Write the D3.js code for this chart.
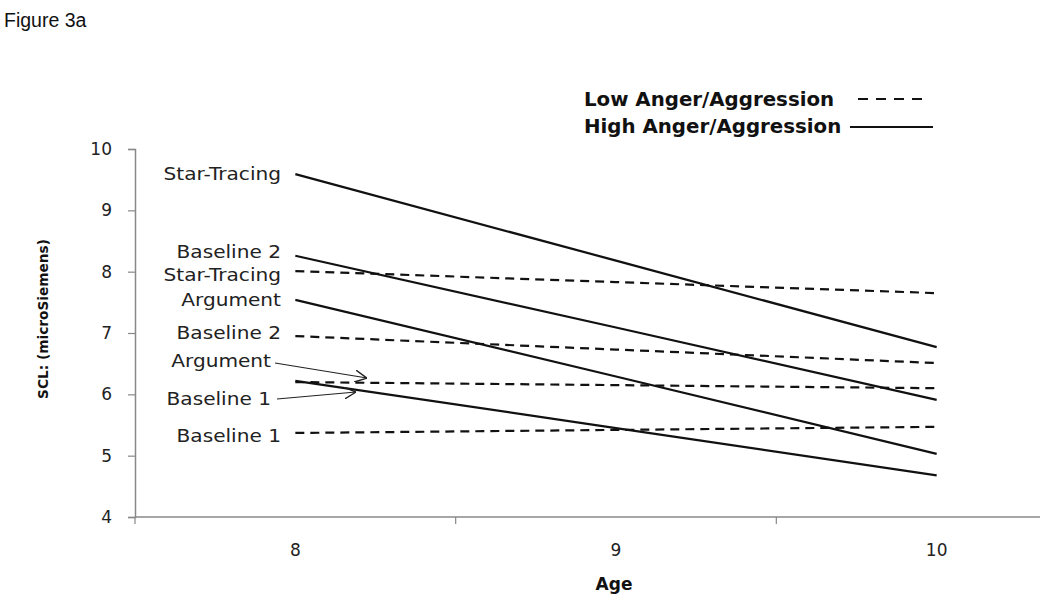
<!DOCTYPE html>
<html><head><meta charset="utf-8">
<script src="https://cdn.jsdelivr.net/npm/d3@7"></script>
<style>body{margin:0;background:#fff}</style>
</head><body>
<svg id="c" width="1050" height="603"></svg>
<script>
const ages = ["8", "9", "10"];
const yTicks = [4, 5, 6, 7, 8, 9, 10];
const conditions = ["Star-Tracing", "Baseline 2", "Argument", "Baseline 1"];
const highValues = {
  "Star-Tracing": [9.59, 8.18, 6.77],
  "Baseline 2":   [8.26, 7.09, 5.91],
  "Argument":     [7.54, 6.29, 5.03],
  "Baseline 1":   [6.22, 5.45, 4.68]
};
const lowValues = {
  "Star-Tracing": [8.01, 7.83, 7.65],
  "Baseline 2":   [6.95, 6.73, 6.51],
  "Argument":     [6.20, 6.15, 6.10],
  "Baseline 1":   [5.37, 5.42, 5.47]
};
const legendLabels = ["Low Anger/Aggression", "High Anger/Aggression"];

const svg = d3.select("#c");
const font = "'DejaVu Sans', sans-serif";
const x = d3.scaleBand().domain(ages).range([135, 1097]).padding(0);
const y = d3.scaleLinear().domain([4, 10]).range([517, 149]);
const cx = a => x(a) + x.bandwidth() / 2;

svg.append("text").attr("x", 4).attr("y", 27).attr("font-family", "Arial, 'Liberation Sans', sans-serif")
  .attr("font-size", 19.5).attr("fill", "#111").text("Figure 3a");

const axisColor = "#888";
// y axis
const yAxis = svg.append("g").attr("transform", "translate(135,0)")
  .call(d3.axisLeft(y).tickValues(yTicks).tickSize(7).tickPadding(16).tickFormat(d3.format("d")));
yAxis.select(".domain").attr("stroke", axisColor).attr("stroke-width", 1.5);
yAxis.selectAll(".tick line").attr("stroke", axisColor).attr("stroke-width", 1.2);
yAxis.selectAll(".tick text").attr("font-family", font).attr("font-size", 17).attr("fill", "#222");

// x axis (custom boundary ticks, clipped right)
svg.append("clipPath").attr("id", "clipx").append("rect").attr("x", 0).attr("y", 0).attr("width", 1040).attr("height", 603);
const xg = svg.append("g").attr("clip-path", "url(#clipx)");
xg.append("line").attr("x1", x.range()[0]).attr("x2", x.range()[1]).attr("y1", y(4)).attr("y2", y(4))
  .attr("stroke", axisColor).attr("stroke-width", 1.5);
xg.selectAll("line.tk").data(ages).join("line").attr("class", "tk")
  .attr("x1", d => x(d)).attr("x2", d => x(d)).attr("y1", y(4)).attr("y2", y(4) + 7)
  .attr("stroke", axisColor).attr("stroke-width", 1.2);
svg.selectAll("text.xl").data(ages).join("text").attr("class", "xl")
  .attr("x", d => cx(d)).attr("y", 556).attr("text-anchor", "middle")
  .attr("font-family", font).attr("font-size", 17).attr("fill", "#222").text(d => d);

// axis titles
svg.append("text").attr("x", 614).attr("y", 590).attr("text-anchor", "middle")
  .attr("font-family", font).attr("font-weight", "bold").attr("font-size", 17).attr("fill", "#111").text("Age");
svg.append("text").attr("transform", "translate(48,319) rotate(-90)").attr("text-anchor", "middle")
  .attr("font-family", font).attr("font-weight", "bold").attr("font-size", 13.7).attr("fill", "#111").text("SCL: (microSiemens)");

// lines
const line = d3.line().x((d, i) => cx(ages[i])).y(d => y(d));
conditions.forEach(c => {
  svg.append("path").attr("d", line(lowValues[c])).attr("fill", "none").attr("stroke", "#111")
    .attr("stroke-width", 2.2).attr("stroke-dasharray", "9,6");
  svg.append("path").attr("d", line(highValues[c])).attr("fill", "none").attr("stroke", "#111")
    .attr("stroke-width", 2.2);
});

// left labels (horizontally stretched like the original)
const labX = 281;
const lab = (txt, xx, yy) => svg.append("text").attr("transform", `translate(${xx},${yy}) scale(1.15,1)`)
  .attr("text-anchor", "end").attr("dominant-baseline", "central")
  .attr("font-family", font).attr("font-size", 17.5).attr("fill", "#222").text(txt);
lab("Star-Tracing", labX, y(highValues["Star-Tracing"][0]));
lab("Baseline 2", labX, y(highValues["Baseline 2"][0]) - 4);
lab("Star-Tracing", labX, y(lowValues["Star-Tracing"][0]) + 4);
lab("Argument", labX, y(highValues["Argument"][0]));
lab("Baseline 2", labX, y(lowValues["Baseline 2"][0]) - 3);
lab("Baseline 1", labX, y(lowValues["Baseline 1"][0]) + 3);
// arrowed labels
lab("Argument", 271, 361);
lab("Baseline 1", 271, 399);
svg.append("defs").append("marker").attr("id", "arr").attr("viewBox", "0 0 10 10").attr("refX", 10).attr("refY", 5)
  .attr("markerWidth", 12).attr("markerHeight", 12).attr("markerUnits", "userSpaceOnUse").attr("orient", "auto")
  .append("path").attr("d", "M0,0 L10,5 L0,10").attr("fill", "none").attr("stroke", "#222").attr("stroke-width", 1.2);
svg.append("line").attr("x1", 275).attr("y1", 363).attr("x2", 367).attr("y2", y(lowValues["Argument"][0]) - 4)
  .attr("stroke", "#222").attr("stroke-width", 1.1).attr("marker-end", "url(#arr)");
svg.append("line").attr("x1", 277).attr("y1", 399).attr("x2", 356).attr("y2", 392)
  .attr("stroke", "#222").attr("stroke-width", 1.1).attr("marker-end", "url(#arr)");

// legend
const lg = svg.append("g");
legendLabels.forEach((l, i) => {
  const yy = 99 + i * 27;
  lg.append("text").attr("x", 584).attr("y", yy).attr("dominant-baseline", "central")
    .attr("font-family", font).attr("font-weight", "bold").attr("font-size", 19.8).attr("fill", "#111").text(l);
});
lg.append("line").attr("x1", 858).attr("x2", 930).attr("y1", 99).attr("y2", 99).attr("stroke", "#111")
  .attr("stroke-width", 2).attr("stroke-dasharray", "10,8");
lg.append("line").attr("x1", 850).attr("x2", 933).attr("y1", 127).attr("y2", 127).attr("stroke", "#111")
  .attr("stroke-width", 2);
</script>
</body></html>
